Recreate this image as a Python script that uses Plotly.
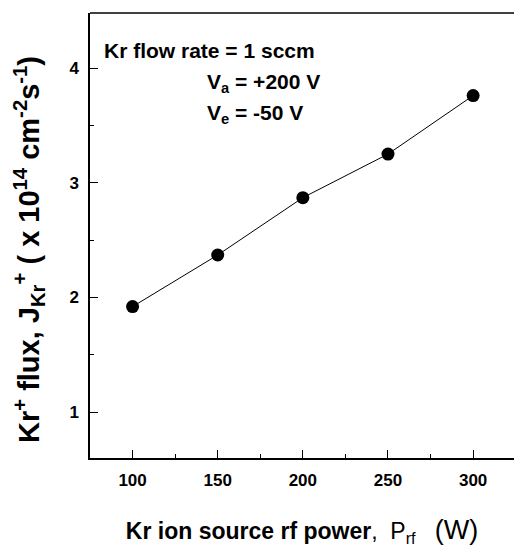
import plotly.graph_objects as go

power = [100, 150, 200, 250, 300]
flux = [1.92, 2.37, 2.87, 3.25, 3.76]
x_ticks = [100, 150, 200, 250, 300]
y_ticks = [1, 2, 3, 4]

FONT = "Liberation Sans, Arial, sans-serif"

fig = go.Figure()
fig.add_trace(go.Scatter(
    x=power, y=flux, mode="lines+markers",
    line=dict(color="black", width=1),
    marker=dict(color="black", size=13, symbol="circle"),
    showlegend=False,
))

axis_common = dict(
    showgrid=False, zeroline=False, showline=True, linecolor="black", linewidth=1.5,
    ticks="inside", ticklen=8, tickwidth=1, tickcolor="black",
    tickfont=dict(family=FONT, size=17, color="black", weight="bold"),
    minor=dict(ticks="inside", ticklen=4, tickwidth=1, tickcolor="black"),
)

fig.update_layout(
    width=514, height=547,
    margin=dict(l=90, r=0, t=13, b=89),
    plot_bgcolor="white", paper_bgcolor="white",
    xaxis=dict(
        range=[75, 324], tickvals=x_ticks, ticktext=[str(v) for v in x_ticks],
        minor_dtick=25, minor_tick0=75, ticklabelstandoff=6,
        title=dict(text="<b>Kr ion source rf power</b>,  P<sub>rf</sub>   <span style='font-size:27px'>(W)</span>",
                   font=dict(family=FONT, size=23, color="black"), standoff=34),
        **axis_common,
    ),
    yaxis=dict(
        range=[0.6, 4.48], tickvals=y_ticks, ticktext=[str(v) for v in y_ticks],
        minor_dtick=0.5, minor_tick0=0.5, ticklabelstandoff=6,
        **axis_common,
    ),
    shapes=[dict(type="line", xref="paper", yref="paper", x0=0, x1=1, y0=1, y1=1,
                 line=dict(color="black", width=1.5))],
)

fig.add_annotation(xref="paper", yref="paper", x=(29 - 90) / 424, y=(458 - 250) / 445,
                   xanchor="center", yanchor="middle", showarrow=False, textangle=-90,
                   text="<b>Kr<sup>+</sup> flux, J<sub>Kr</sub><sup>+</sup> ( x 10<sup>14</sup> cm<sup>-2</sup>s<sup>-1</sup>)</b>",
                   font=dict(family=FONT, size=29, color="black"))

ann_font = dict(family=FONT, size=21, color="black")
fig.add_annotation(xref="paper", yref="paper", x=(102 - 90) / 424, y=1 - (50 - 13) / 445,
                   xanchor="left", yanchor="middle", showarrow=False,
                   text="<b>Kr flow rate = 1 sccm</b>", font=ann_font)
fig.add_annotation(xref="paper", yref="paper", x=(205 - 90) / 424, y=1 - (83 - 13) / 445,
                   xanchor="left", yanchor="middle", showarrow=False,
                   text="<b>V<sub>a</sub> = +200 V</b>", font=ann_font)
fig.add_annotation(xref="paper", yref="paper", x=(205 - 90) / 424, y=1 - (114 - 13) / 445,
                   xanchor="left", yanchor="middle", showarrow=False,
                   text="<b>V<sub>e</sub> = -50 V</b>", font=ann_font)

fig.write_html("out.html")
